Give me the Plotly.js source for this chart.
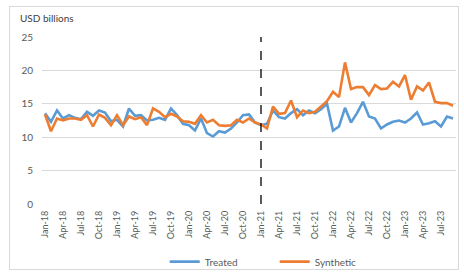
<!DOCTYPE html>
<html>
<head>
<meta charset="utf-8">
<script src="https://cdn.plot.ly/plotly-3.0.1.min.js"></script>
<style>
html,body{margin:0;padding:0;background:#fff;}
#frame{position:absolute;left:9px;top:6px;width:450px;height:264px;border:1px solid #d9d9d9;box-sizing:border-box;pointer-events:none;}
#chart{position:absolute;left:0;top:0;width:464px;height:274px;}
</style>
</head>
<body>
<div id="chart"></div>
<div id="frame"></div>
<script>
const months = ["Jan-18","Feb-18","Mar-18","Apr-18","May-18","Jun-18","Jul-18","Aug-18","Sep-18","Oct-18","Nov-18","Dec-18",
"Jan-19","Feb-19","Mar-19","Apr-19","May-19","Jun-19","Jul-19","Aug-19","Sep-19","Oct-19","Nov-19","Dec-19",
"Jan-20","Feb-20","Mar-20","Apr-20","May-20","Jun-20","Jul-20","Aug-20","Sep-20","Oct-20","Nov-20","Dec-20",
"Jan-21","Feb-21","Mar-21","Apr-21","May-21","Jun-21","Jul-21","Aug-21","Sep-21","Oct-21","Nov-21","Dec-21",
"Jan-22","Feb-22","Mar-22","Apr-22","May-22","Jun-22","Jul-22","Aug-22","Sep-22","Oct-22","Nov-22","Dec-22",
"Jan-23","Feb-23","Mar-23","Apr-23","May-23","Jun-23","Jul-23","Aug-23","Sep-23"];

const treated = [13.6,12.3,14.0,12.8,13.3,12.9,12.7,13.8,13.2,14.0,13.7,12.4,
12.6,11.6,14.3,13.2,13.3,12.5,12.6,12.9,12.6,14.3,13.3,12.0,
11.8,11.0,12.8,10.6,10.1,10.9,10.7,11.3,12.2,13.3,13.4,12.2,
11.8,12.0,14.0,13.0,12.8,13.6,14.2,13.3,14.0,13.6,14.2,15.0,
11.0,11.6,14.4,12.2,13.6,15.3,13.1,12.8,11.3,11.9,12.3,12.5,
12.2,12.8,13.7,11.9,12.1,12.4,11.6,13.1,12.8];

const synthetic = [13.4,10.9,12.8,12.5,12.8,12.8,12.6,13.3,11.6,13.4,12.9,11.8,
13.3,11.8,13.1,12.7,13.0,11.8,14.3,13.8,13.0,13.5,13.1,12.4,
12.3,12.0,13.3,12.2,12.6,11.8,11.7,11.8,12.6,12.2,12.8,12.2,
11.9,11.3,14.6,13.5,13.6,15.5,13.0,14.0,13.6,13.8,14.6,15.4,
16.8,16.0,21.2,17.2,17.5,17.5,16.3,17.8,17.2,17.3,18.3,17.6,
19.3,15.6,17.6,17.0,18.2,15.3,15.1,15.1,14.7];

const treatmentStart = "Jan-21";
const yTicks = [0,5,10,15,20,25];

const idx = months.map((m,i)=>i);
const tickIdx = idx.filter(i => i % 3 === 0);
const tickText = tickIdx.map(i => months[i]);
const startIdx = months.indexOf(treatmentStart);

const font = "Lato, 'Open Sans', sans-serif";
const traces = [
  {x: idx, y: treated, name: "Treated", type: "scatter", mode: "lines",
   line: {color: "#5B9BD5", width: 2.6}},
  {x: idx, y: synthetic, name: "Synthetic", type: "scatter", mode: "lines",
   line: {color: "#ED7D31", width: 2.6}}
];

const layout = {
  width: 464, height: 274,
  margin: {l: 42, r: 8, t: 37, b: 70, autoexpand: false},
  paper_bgcolor: "#fff", plot_bgcolor: "#fff",
  font: {family: font, size: 10, color: "#595959"},
  showlegend: true,
  legend: {orientation: "h", x: 0.355, xanchor: "left", xref: "container",
           y: 0.045, yanchor: "middle", yref: "container",
           font: {size: 10, color: "#595959"}, entrywidth: 65, entrywidthmode: "pixels"},
  xaxis: {range: [-0.5, months.length - 0.5], tickmode: "array", tickvals: tickIdx, ticktext: tickText,
          tickangle: -90, showgrid: false, zeroline: false, showline: false, ticks: "", automargin: false,
          ticklabelstandoff: 4, tickfont: {size: 9, color: "#595959"}},
  yaxis: {range: [0, 25], tickmode: "array", tickvals: yTicks, showgrid: true, gridcolor: "#d9d9d9",
          gridwidth: 1, zeroline: false, showline: false, ticks: "", ticklabelstandoff: 8, automargin: false,
          tickfont: {size: 10, color: "#595959"}},
  shapes: [{type: "line", xref: "x", yref: "paper", x0: startIdx, x1: startIdx, y0: 0, y1: 1,
            line: {color: "#000", width: 1.3, dash: "dash"}}],
  annotations: [{text: "USD billions", xref: "paper", yref: "paper", x: -0.058, y: 1.114,
                 xanchor: "left", yanchor: "middle", showarrow: false,
                 font: {size: 10, color: "#404040", family: font}}]
};

Plotly.newPlot("chart", traces, layout, {displayModeBar: false, staticPlot: true});
</script>
</body>
</html>
